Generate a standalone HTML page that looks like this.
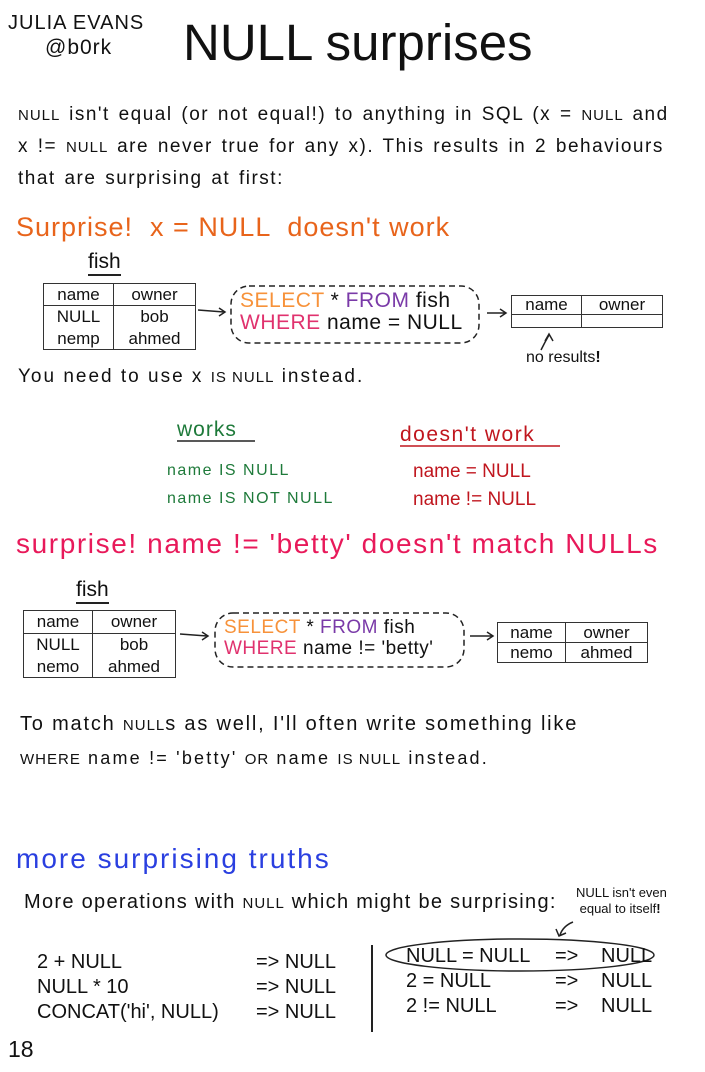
<!DOCTYPE html>
<html><head><meta charset="utf-8"><style>
body{margin:0;width:705px;height:1072px;background:#fff;position:relative;overflow:hidden;font-family:"Liberation Sans",sans-serif;color:#111}
.a{position:absolute;white-space:nowrap}
table{position:absolute;border-collapse:collapse;font-family:"Liberation Sans",sans-serif;font-size:17px}
td{border-left:1.5px solid #333;text-align:center;padding:0;line-height:21px}
td:first-child{border-left:none}
.sc{font-size:15px;letter-spacing:1px}
.c{position:absolute;white-space:nowrap;font-size:20px}
</style></head><body>
<div class="a" style="left:8px;top:12px;font-size:20px;letter-spacing:1px">JULIA EVANS</div>
<div class="a" style="left:45px;top:36px;font-size:21px;letter-spacing:1px">@b0rk</div>
<div class="a" style="left:183px;top:13px;font-size:51px">NULL surprises</div>

<div class="a" style="left:18px;top:99px;font-size:19px;line-height:31px;letter-spacing:1.5px;word-spacing:2px"><span class="sc">NULL</span> isn't equal (or not equal!) to anything in SQL (x = <span class="sc">NULL</span> and<br>x != <span class="sc">NULL</span> are never true for any x). This results in 2 behaviours<br>that are surprising at first:</div>

<div class="a" style="left:16px;top:212px;font-size:27px;color:#e8641b;letter-spacing:1px">Surprise! &nbsp;x = NULL &nbsp;doesn't work</div>

<div class="a" style="left:88px;top:250px;font-size:21px;border-bottom:2px solid #222;line-height:24px">fish</div>
<table style="left:43px;top:283px;width:153px;height:67px;border:1.5px solid #333">
<tr style="border-bottom:1.5px solid #333"><td style="width:69px">name</td><td>owner</td></tr>
<tr><td>NULL</td><td>bob</td></tr><tr><td>nemp</td><td>ahmed</td></tr></table>
<svg class="a" style="left:0;top:0" width="705" height="1072">
<g stroke="#222" stroke-width="1.5" fill="none">
<path d="M198 310 L224 312 M219 308 L225 312 L219 316"/>
<path d="M487 313 L505 313 M500 309 L506 313 L500 317"/>
<rect x="231" y="286" width="248" height="57" rx="18" stroke-dasharray="6 4"/>
<path d="M541 350 Q545 342 549 335 M545 341 L549 334 L553 341"/>
<path d="M180 634 L207 636 M202 632 L208 636 L202 640"/>
<path d="M470 636 L492 636 M487 632 L493 636 L487 640"/>
<rect x="215" y="613" width="249" height="54" rx="18" stroke-dasharray="6 4"/>
<path d="M177 441 L255 441"/>
<path d="M400 446 L560 446" stroke="#c0161e"/>
<path d="M372 945 L372 1032" stroke-width="2"/>
<ellipse cx="520" cy="955" rx="134" ry="16"/>
<path d="M573 922 Q563 926 560 935 M556 929 L559 936 L566 933"/>
</g></svg>
<div class="a" style="left:240px;top:290px;font-size:21px;line-height:22px;letter-spacing:0.5px"><span style="color:#f7923a">SELECT</span> * <span style="color:#7a3aa8">FROM</span> fish<br><span style="color:#e0326e">WHERE</span> name = NULL</div>
<table style="left:511px;top:295px;width:152px;height:32px;border:1.5px solid #333">
<tr style="border-bottom:1.5px solid #333"><td style="width:69px;line-height:18px">name</td><td style="line-height:18px">owner</td></tr>
<tr><td style="height:12px"></td><td></td></tr></table>
<div class="a" style="left:526px;top:349px;font-size:16px">no results<b>!</b></div>
<div class="a" style="left:18px;top:366px;font-size:19px;letter-spacing:2px">You need to use x <span class="sc">IS NULL</span> instead.</div>

<div class="a" style="left:177px;top:418px;font-size:21px;color:#1e7a3a;letter-spacing:1px">works</div>
<div class="a" style="left:167px;top:457px;font-size:16px;color:#1e7a3a;line-height:28px;letter-spacing:1.5px">name IS NULL<br>name IS NOT NULL</div>
<div class="a" style="left:400px;top:423px;font-size:21px;color:#c0161e;letter-spacing:1.5px">doesn't work</div>
<div class="a" style="left:413px;top:458px;font-size:19px;color:#c0161e;line-height:28px">name = NULL<br>name != NULL</div>

<div class="a" style="left:16px;top:528px;font-size:28px;color:#e8195a;letter-spacing:1.6px">surprise! name != 'betty' doesn't match NULLs</div>
<div class="a" style="left:76px;top:578px;font-size:21px;border-bottom:2px solid #222;line-height:24px">fish</div>
<table style="left:23px;top:610px;width:153px;height:68px;border:1.5px solid #333">
<tr style="border-bottom:1.5px solid #333"><td style="width:68px">name</td><td>owner</td></tr>
<tr><td>NULL</td><td>bob</td></tr><tr><td>nemo</td><td>ahmed</td></tr></table>
<div class="a" style="left:224px;top:617px;font-size:19px;line-height:21px;letter-spacing:0.5px"><span style="color:#f7923a">SELECT</span> * <span style="color:#7a3aa8">FROM</span> fish<br><span style="color:#e0326e">WHERE</span> name != 'betty'</div>
<table style="left:497px;top:622px;width:151px;height:40px;border:1.5px solid #333">
<tr style="border-bottom:1.5px solid #333"><td style="width:67px;line-height:19px">name</td><td style="line-height:19px">owner</td></tr>
<tr><td style="line-height:19px">nemo</td><td style="line-height:19px">ahmed</td></tr></table>

<div class="a" style="left:20px;top:713px;font-size:20px;letter-spacing:1.8px">To match <span class="sc">NULL</span>s as well, I'll often write something like</div>
<div class="a" style="left:20px;top:748px;font-size:18px;letter-spacing:2.2px"><span class="sc">WHERE</span> name != 'betty' <span class="sc">OR</span> name <span class="sc">IS NULL</span> instead.</div>

<div class="a" style="left:16px;top:843px;font-size:28px;color:#2a3fe0;letter-spacing:2px">more surprising truths</div>
<div class="a" style="left:24px;top:891px;font-size:20px;letter-spacing:1.3px">More operations with <span class="sc">NULL</span> which might be surprising:</div>
<div class="a" style="left:576px;top:885px;font-size:13px;line-height:16px">NULL isn't even<br>&nbsp;equal to itself<b>!</b></div>

<div class="c" style="left:37px;top:951px">2 + NULL</div>
<div class="c" style="left:37px;top:976px">NULL * 10</div>
<div class="c" style="left:37px;top:1001px">CONCAT('hi', NULL)</div>
<div class="c" style="left:256px;top:951px">=&gt; NULL</div>
<div class="c" style="left:256px;top:976px">=&gt; NULL</div>
<div class="c" style="left:256px;top:1001px">=&gt; NULL</div>

<div class="c" style="left:406px;top:945px">NULL = NULL</div>
<div class="c" style="left:406px;top:970px">2 = NULL</div>
<div class="c" style="left:406px;top:995px">2 != NULL</div>
<div class="c" style="left:555px;top:945px">=&gt;</div>
<div class="c" style="left:555px;top:970px">=&gt;</div>
<div class="c" style="left:555px;top:995px">=&gt;</div>
<div class="c" style="left:601px;top:945px">NULL</div>
<div class="c" style="left:601px;top:970px">NULL</div>
<div class="c" style="left:601px;top:995px">NULL</div>
<div class="a" style="left:8px;top:1036px;font-size:23px">18</div>
</body></html>
